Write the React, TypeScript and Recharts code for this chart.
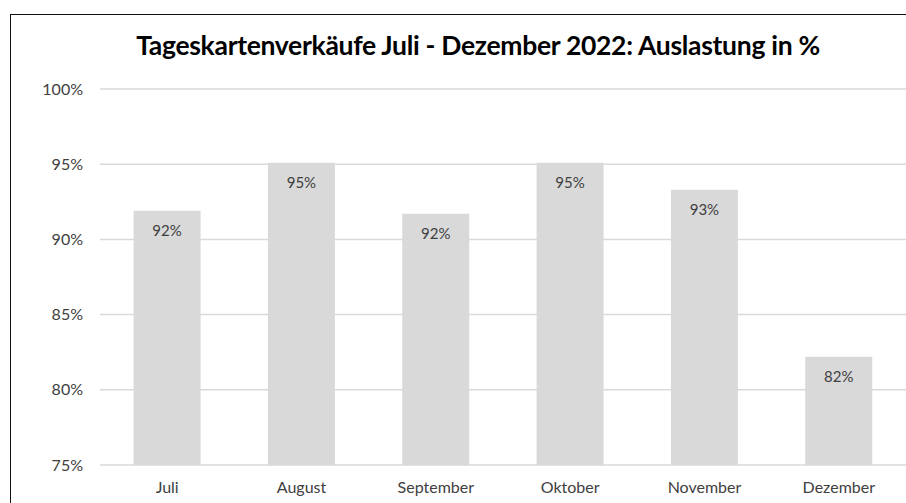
import { BarChart, Bar, XAxis, YAxis, CartesianGrid, LabelList } from 'recharts';

// Auslastung je Monat (in %)
const months = ['Juli', 'August', 'September', 'Oktober', 'November', 'Dezember'];
const utilization = [91.9, 95.1, 91.7, 95.1, 93.3, 82.2];
const yTicks = [75, 80, 85, 90, 95, 100];

const data = months.map((month, i) => ({ month, value: utilization[i] }));

const FONT = 'Lato, "Open Sans", sans-serif';
const TEXT = '#404040';

export default function App() {
  return (
    <div style={{ position: 'absolute', left: 0, top: 0, width: 906, height: 503, background: '#fff', overflow: 'hidden' }}>
      {/* Rahmen oben/links */}
      <div
        style={{
          position: 'absolute',
          left: 10,
          top: 14,
          width: 900,
          height: 500,
          borderTop: '1.5px solid #111',
          borderLeft: '1.5px solid #111',
        }}
      />
      <div
        style={{
          position: 'absolute',
          left: 0,
          width: 906,
          top: 29,
          textAlign: 'center',
          paddingLeft: 50,
          boxSizing: 'border-box',
          fontFamily: FONT,
          fontWeight: 700,
          fontSize: 26.5,
          color: '#000',
          letterSpacing: -0.3,
        }}
      >
        Tageskartenverkäufe Juli - Dezember 2022: Auslastung in %
      </div>
      <div style={{ position: 'absolute', left: 0, top: 0 }}>
        <BarChart
          width={906}
          height={503}
          data={data}
          margin={{ top: 89, right: 0, bottom: 0, left: 0 }}
          barCategoryGap="25%"
        >
          <CartesianGrid vertical={false} stroke="#d9d9d9" strokeWidth={1.5} />
          <XAxis
            dataKey="month"
            height={38}
            axisLine={false}
            tickLine={false}
            tickSize={0}
            tickMargin={17}
            tick={{ fill: TEXT, fontSize: 16, fontFamily: FONT }}
          />
          <YAxis
            width={100}
            domain={[75, 100]}
            ticks={yTicks}
            allowDataOverflow
            axisLine={false}
            tickLine={false}
            tickSize={0}
            tickMargin={17}
            tickFormatter={(v: number) => `${v}%`}
            tick={{ fill: TEXT, fontSize: 16, fontFamily: FONT }}
          />
          <Bar dataKey="value" fill="#d9d9d9" isAnimationActive={false}>
            <LabelList
              dataKey="value"
              position="insideTop"
              offset={15}
              formatter={(v: number) => `${Math.round(v)}%`}
              style={{ fill: TEXT, fontSize: 15, fontFamily: FONT }}
            />
          </Bar>
        </BarChart>
      </div>
    </div>
  );
}
